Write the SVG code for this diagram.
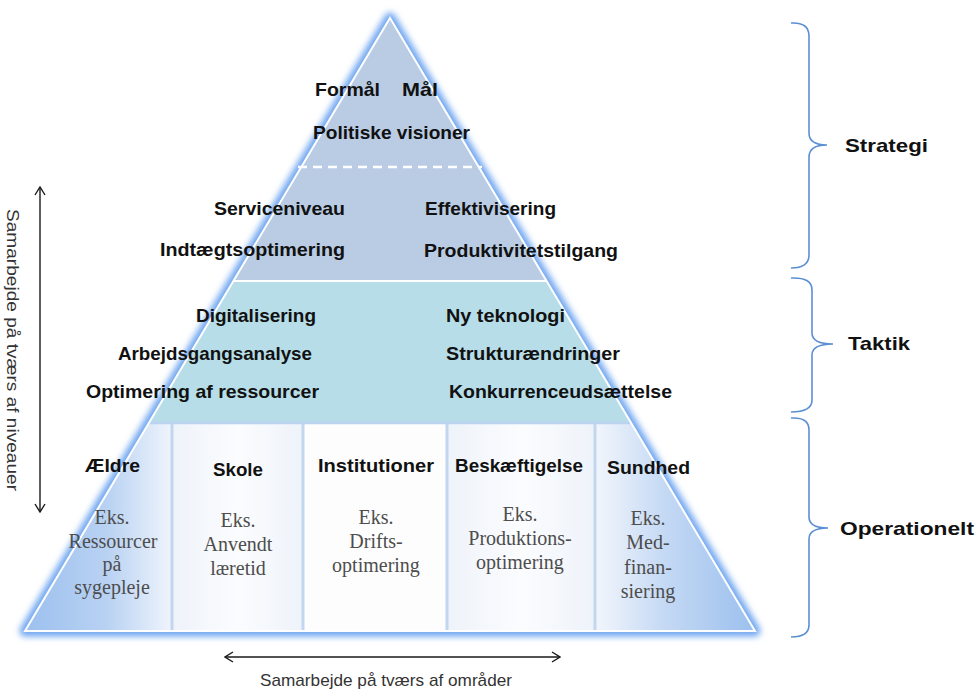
<svg xmlns="http://www.w3.org/2000/svg" width="976" height="693" viewBox="0 0 976 693">
<style>
.b{font-family:"Liberation Sans",Arial,sans-serif;font-weight:bold;font-size:19px;fill:#111}
.g{font-family:"Liberation Serif","Times New Roman",serif;font-size:20px;fill:#4d4d4d;text-anchor:middle}
.r{font-family:"Liberation Sans",Arial,sans-serif;font-size:17px;fill:#333}
.br{fill:none;stroke:#5b8fd3;stroke-width:1.6}
.ar{fill:none;stroke:#1a1a1a;stroke-width:1.4}
.div{stroke:#c3d6f0;stroke-width:3}
</style>
<defs>
<filter id="glow" x="-10%" y="-10%" width="120%" height="120%"><feGaussianBlur stdDeviation="3"/></filter>
<linearGradient id="gL" x1="25" y1="0" x2="175" y2="0" gradientUnits="userSpaceOnUse"><stop offset="0" stop-color="#9cc0ee"/><stop offset="0.55" stop-color="#b9d2f3"/><stop offset="1" stop-color="#f2f6fc"/></linearGradient>
<linearGradient id="gR" x1="595" y1="0" x2="755" y2="0" gradientUnits="userSpaceOnUse"><stop offset="0" stop-color="#f2f6fc"/><stop offset="0.45" stop-color="#c3d8f4"/><stop offset="1" stop-color="#9cc0ee"/></linearGradient>
<linearGradient id="gM" x1="0" y1="0" x2="1" y2="0"><stop offset="0" stop-color="#eef3fa"/><stop offset="0.5" stop-color="#fbfcfe"/><stop offset="1" stop-color="#eef3fa"/></linearGradient>
<marker id="ah" viewBox="0 0 10 12" refX="9" refY="6" markerWidth="10" markerHeight="12" markerUnits="userSpaceOnUse" orient="auto-start-reverse"><path d="M1,1 L9,6 L1,11" fill="none" stroke="#1a1a1a" stroke-width="1.4"/></marker>
<clipPath id="tri"><polygon points="390,18 755,631 25,631"/></clipPath>
</defs>

<g id="pyramid-shapes">
<polygon points="390,18 755,631 25,631" fill="none" stroke="#6fa6f0" stroke-width="11" stroke-linejoin="round" filter="url(#glow)"/>
<polygon points="390,18 546.6,281 233.4,281" fill="#b9cce4"/>
<line x1="298" y1="167" x2="482" y2="167" stroke="#fff" stroke-width="2.5" stroke-dasharray="9,6"/>
<polygon points="233.4,281 546.6,281 630.5,422 149.5,422" fill="#b7dde8"/>
<g clip-path="url(#tri)">
<rect x="20" y="422" width="152" height="210" fill="url(#gL)"/>
<rect x="172" y="422" width="131" height="210" fill="url(#gM)"/>
<rect x="303" y="422" width="144" height="210" fill="#fdfdfe"/>
<rect x="447" y="422" width="148" height="210" fill="url(#gM)"/>
<rect x="595" y="422" width="165" height="210" fill="url(#gR)"/>
<line class="div" x1="172" y1="422" x2="172" y2="631"/>
<line class="div" x1="303" y1="422" x2="303" y2="631"/>
<line class="div" x1="447" y1="422" x2="447" y2="631"/>
<line class="div" x1="595" y1="422" x2="595" y2="631"/>
<line x1="140" y1="423" x2="640" y2="423" stroke="#bcd3f0" stroke-width="2.5"/>
</g>
<g fill="none" stroke="#fff" stroke-width="2">
<polygon points="390,18 755,631 25,631"/>
<line x1="233.4" y1="281" x2="546.6" y2="281"/>
</g>
</g>

<g id="strategi-level">
<text class="b" x="315" y="96" textLength="65" lengthAdjust="spacingAndGlyphs">Formål</text>
<text class="b" x="402" y="96" textLength="36" lengthAdjust="spacingAndGlyphs">Mål</text>
<text class="b" x="313" y="139" textLength="157" lengthAdjust="spacingAndGlyphs">Politiske visioner</text>
<text class="b" x="214" y="215" textLength="131" lengthAdjust="spacingAndGlyphs">Serviceniveau</text>
<text class="b" x="425" y="215" textLength="131" lengthAdjust="spacingAndGlyphs">Effektivisering</text>
<text class="b" x="160" y="256" textLength="185" lengthAdjust="spacingAndGlyphs">Indtægtsoptimering</text>
<text class="b" x="424" y="257" textLength="194" lengthAdjust="spacingAndGlyphs">Produktivitetstilgang</text>
</g>

<g id="taktik-level">
<text class="b" x="196" y="322" textLength="120" lengthAdjust="spacingAndGlyphs">Digitalisering</text>
<text class="b" x="446" y="322" textLength="119" lengthAdjust="spacingAndGlyphs">Ny teknologi</text>
<text class="b" x="118" y="360" textLength="194" lengthAdjust="spacingAndGlyphs">Arbejdsgangsanalyse</text>
<text class="b" x="446" y="360" textLength="174" lengthAdjust="spacingAndGlyphs">Strukturændringer</text>
<text class="b" x="86" y="398" textLength="233" lengthAdjust="spacingAndGlyphs">Optimering af ressourcer</text>
<text class="b" x="449" y="398" textLength="223" lengthAdjust="spacingAndGlyphs">Konkurrenceudsættelse</text>
</g>

<g id="operationelt-level">
<g id="aeldre"><text class="b" x="85" y="472" textLength="55" lengthAdjust="spacingAndGlyphs">Ældre</text>
<text class="g" x="112" y="524">Eks.</text><text class="g" x="113" y="548">Ressourcer</text><text class="g" x="112" y="571">på</text><text class="g" x="112" y="594">sygepleje</text></g>
<g id="skole"><text class="b" x="213" y="476" textLength="50" lengthAdjust="spacingAndGlyphs">Skole</text>
<text class="g" x="238" y="527">Eks.</text><text class="g" x="238" y="551">Anvendt</text><text class="g" x="238" y="575">læretid</text></g>
<g id="institutioner"><text class="b" x="318" y="472" textLength="116" lengthAdjust="spacingAndGlyphs">Institutioner</text>
<text class="g" x="376" y="524">Eks.</text><text class="g" x="376" y="548">Drifts-</text><text class="g" x="376" y="572">optimering</text></g>
<g id="beskaeftigelse"><text class="b" x="455" y="472" textLength="128" lengthAdjust="spacingAndGlyphs">Beskæftigelse</text>
<text class="g" x="520" y="521">Eks.</text><text class="g" x="520" y="545">Produktions-</text><text class="g" x="520" y="569">optimering</text></g>
<g id="sundhed"><text class="b" x="607" y="474" textLength="83" lengthAdjust="spacingAndGlyphs">Sundhed</text>
<text class="g" x="648" y="525">Eks.</text><text class="g" x="648" y="549">Med-</text><text class="g" x="648" y="574">finan-</text><text class="g" x="648" y="598">siering</text></g>
</g>

<g id="connectors">
<path class="br" d="M791,23 Q809,22 809,36 L809,133 Q809,145 827,145 Q809,145 809,157 L809,255 Q809,268 791,268"/>
<path class="br" d="M791,278 Q812,277 812,290 L812,333 Q812,344 833,344 Q812,344 812,355 L812,400 Q812,412 791,412"/>
<path class="br" d="M791,418 Q809,417 809,430 L809,517 Q809,528 828,528 Q809,528 809,539 L809,625 Q809,637 791,637"/>
<line class="ar" x1="40" y1="187" x2="40" y2="512" marker-start="url(#ah)" marker-end="url(#ah)"/>
<line class="ar" x1="225" y1="657" x2="560" y2="657" marker-start="url(#ah)" marker-end="url(#ah)"/>
</g>

<g id="labels">
<text class="b" x="845" y="152" textLength="83" lengthAdjust="spacingAndGlyphs">Strategi</text>
<text class="b" x="848" y="350" textLength="62" lengthAdjust="spacingAndGlyphs">Taktik</text>
<text class="b" x="840" y="535" textLength="134" lengthAdjust="spacingAndGlyphs">Operationelt</text>
<text class="r" transform="translate(7,350) rotate(90)" text-anchor="middle" textLength="282" lengthAdjust="spacingAndGlyphs">Samarbejde på tværs af niveauer</text>
<text class="r" x="386" y="686" text-anchor="middle" textLength="252" lengthAdjust="spacingAndGlyphs">Samarbejde på tværs af områder</text>
</g>
</svg>
